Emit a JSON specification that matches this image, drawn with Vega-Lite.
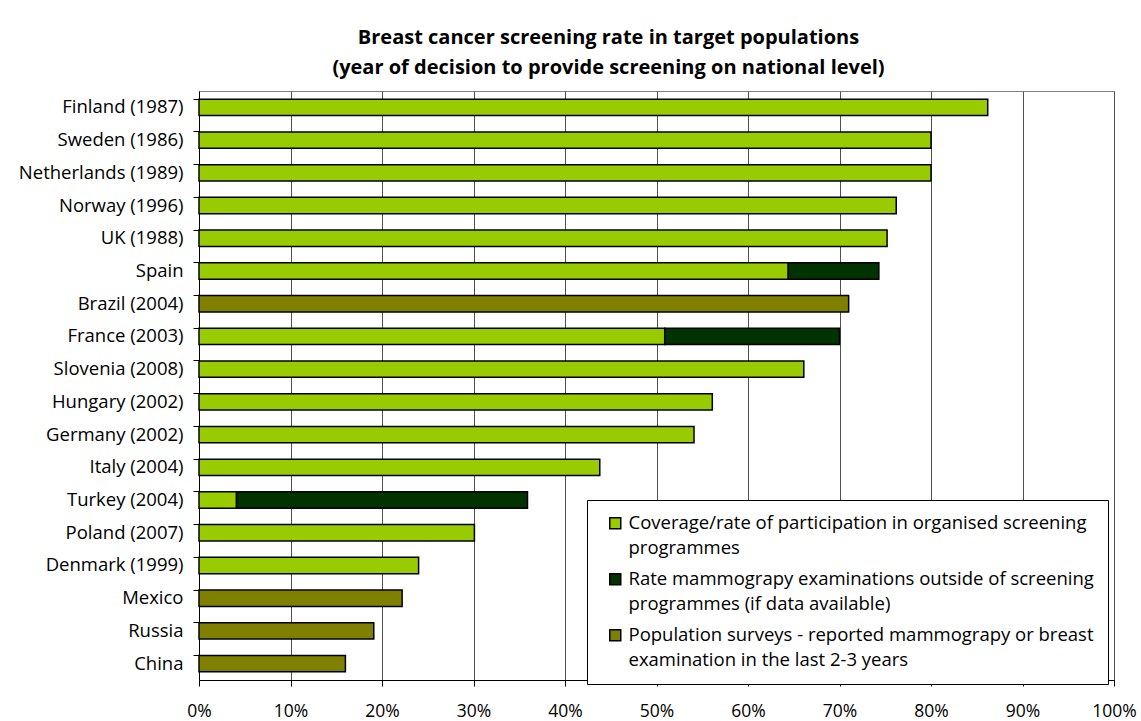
{
  "$schema": "https://vega.github.io/schema/vega-lite/v6.json",
  "width": 915,
  "height": 589,
  "autosize": {"type": "none"},
  "padding": {"left": 199, "top": 91, "right": 27, "bottom": 41},
  "background": "white",
  "title": {
    "text": ["Breast cancer screening rate in target populations", "(year of decision to provide screening on national level)"],
    "font": "Open Sans",
    "fontSize": 20,
    "fontWeight": "bold",
    "color": "black",
    "lineHeight": 30,
    "anchor": "middle",
    "dx": -48,
    "offset": 13
  },
  "config": {
    "view": {"stroke": "#808080", "strokeWidth": 1},
    "font": "Open Sans"
  },
  "data": {
    "values": [
      {"country": "Finland (1987)", "type": "Coverage/rate of participation in organised screening programmes", "value": 0.862, "ord": 1},
      {"country": "Sweden (1986)", "type": "Coverage/rate of participation in organised screening programmes", "value": 0.80, "ord": 1},
      {"country": "Netherlands (1989)", "type": "Coverage/rate of participation in organised screening programmes", "value": 0.80, "ord": 1},
      {"country": "Norway (1996)", "type": "Coverage/rate of participation in organised screening programmes", "value": 0.762, "ord": 1},
      {"country": "UK (1988)", "type": "Coverage/rate of participation in organised screening programmes", "value": 0.752, "ord": 1},
      {"country": "Spain", "type": "Coverage/rate of participation in organised screening programmes", "value": 0.644, "ord": 1},
      {"country": "Spain", "type": "Rate mammograpy examinations outside of screening programmes (if data available)", "value": 0.099, "ord": 2},
      {"country": "Brazil (2004)", "type": "Population surveys - reported mammograpy or breast examination in the last 2-3 years", "value": 0.71, "ord": 3},
      {"country": "France (2003)", "type": "Coverage/rate of participation in organised screening programmes", "value": 0.509, "ord": 1},
      {"country": "France (2003)", "type": "Rate mammograpy examinations outside of screening programmes (if data available)", "value": 0.191, "ord": 2},
      {"country": "Slovenia (2008)", "type": "Coverage/rate of participation in organised screening programmes", "value": 0.661, "ord": 1},
      {"country": "Hungary (2002)", "type": "Coverage/rate of participation in organised screening programmes", "value": 0.561, "ord": 1},
      {"country": "Germany (2002)", "type": "Coverage/rate of participation in organised screening programmes", "value": 0.541, "ord": 1},
      {"country": "Italy (2004)", "type": "Coverage/rate of participation in organised screening programmes", "value": 0.438, "ord": 1},
      {"country": "Turkey (2004)", "type": "Coverage/rate of participation in organised screening programmes", "value": 0.041, "ord": 1},
      {"country": "Turkey (2004)", "type": "Rate mammograpy examinations outside of screening programmes (if data available)", "value": 0.318, "ord": 2},
      {"country": "Poland (2007)", "type": "Coverage/rate of participation in organised screening programmes", "value": 0.301, "ord": 1},
      {"country": "Denmark (1999)", "type": "Coverage/rate of participation in organised screening programmes", "value": 0.24, "ord": 1},
      {"country": "Mexico", "type": "Population surveys - reported mammograpy or breast examination in the last 2-3 years", "value": 0.222, "ord": 3},
      {"country": "Russia", "type": "Population surveys - reported mammograpy or breast examination in the last 2-3 years", "value": 0.191, "ord": 3},
      {"country": "China", "type": "Population surveys - reported mammograpy or breast examination in the last 2-3 years", "value": 0.16, "ord": 3}
    ]
  },
  "mark": {"type": "bar", "stroke": "black", "strokeWidth": 1.5},
  "encoding": {
    "y": {
      "field": "country",
      "type": "nominal",
      "sort": ["Finland (1987)", "Sweden (1986)", "Netherlands (1989)", "Norway (1996)", "UK (1988)", "Spain", "Brazil (2004)", "France (2003)", "Slovenia (2008)", "Hungary (2002)", "Germany (2002)", "Italy (2004)", "Turkey (2004)", "Poland (2007)", "Denmark (1999)", "Mexico", "Russia", "China"],
      "scale": {"paddingInner": 0.5, "paddingOuter": 0.25},
      "axis": {
        "title": null,
        "bandPosition": 0,
        "domainColor": "black",
        "domainWidth": 1,
        "tickColor": "black",
        "tickSize": 6,
        "labelPadding": 10,
        "labelFont": "Open Sans",
        "labelFontSize": 18.5,
        "labelColor": "black",
        "labelLimit": 300,
        "grid": false
      }
    },
    "x": {
      "field": "value",
      "type": "quantitative",
      "stack": "zero",
      "scale": {"domain": [0, 1], "nice": false},
      "axis": {
        "title": null,
        "format": "%",
        "values": [0, 0.1, 0.2, 0.3, 0.4, 0.5, 0.6, 0.7, 0.8, 0.9, 1],
        "domainColor": "black",
        "tickColor": "black",
        "tickSize": 6,
        "labelFlush": false,
        "labelPadding": 16,
        "labelFont": "Open Sans",
        "labelFontSize": 17.5,
        "labelColor": "black",
        "grid": true,
        "gridColor": "#505050",
        "gridWidth": 1
      }
    },
    "color": {
      "field": "type",
      "type": "nominal",
      "scale": {
        "domain": ["Coverage/rate of participation in organised screening programmes", "Rate mammograpy examinations outside of screening programmes (if data available)", "Population surveys - reported mammograpy or breast examination in the last 2-3 years"],
        "range": ["#99CC00", "#003300", "#808000"]
      },
      "legend": {
        "title": null,
        "orient": "none",
        "legendX": 388,
        "legendY": 409,
        "direction": "vertical",
        "fillColor": "white",
        "strokeColor": "black",
        "padding": 14,
        "symbolOffset": 5,
        "symbolType": "square",
        "symbolSize": 121,
        "symbolStrokeColor": "black",
        "symbolStrokeWidth": 1.5,
        "symbolOpacity": 1,
        "labelFont": "Open Sans",
        "labelFontSize": 18.5,
        "labelColor": "black",
        "labelLimit": 600,
        "labelOffset": 4,
        "rowPadding": 12,
        "encode": {"labels": {"update": {"lineHeight": {"value": 24.5}}}},
        "labelExpr": "indexof(datum.label, 'Coverage') == 0 ? ['Coverage/rate of participation in organised screening', 'programmes'] : indexof(datum.label, 'Rate') == 0 ? ['Rate mammograpy examinations outside of screening', 'programmes (if data available)'] : ['Population surveys - reported mammograpy or breast', 'examination in the last 2-3 years']"
      }
    },
    "order": {"field": "ord", "type": "quantitative"}
  }
}
